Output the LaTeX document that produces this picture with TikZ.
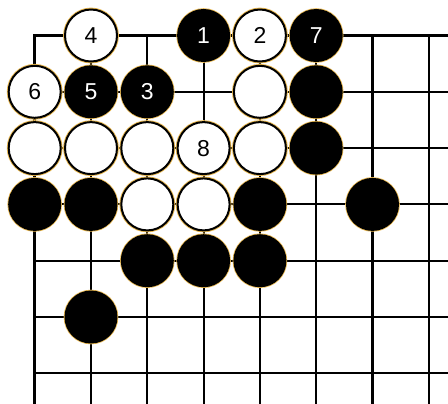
\documentclass[tikz,border=0pt]{standalone}
\usepackage{fontspec}
\setmainfont{Liberation Sans}
\definecolor{halo}{RGB}{232,184,80}
\tikzset{
  gridline/.style={line width=2.1pt, black},
  edgeline/.style={line width=3.4pt, black, line join=miter, line cap=butt},
  wstone/.style={circle, minimum size=52pt, inner sep=0pt, fill=white, draw=black, line width=2pt,
    preaction={draw=halo, line width=3.8pt}, text=black, font=\fontsize{23}{23}\selectfont},
  bstone/.style={circle, minimum size=53pt, inner sep=0pt, fill=black, draw=none,
    preaction={draw=halo, line width=1.6pt}, text=white, font=\fontsize{23}{23}\selectfont},
}
\begin{document}
\begin{tikzpicture}[x=56.3pt, y=-56.3pt]
\useasboundingbox[fill=white] (-0.6163,-0.6306) rectangle (7.3410,6.5275);
% interior grid
\foreach \c in {1,...,7} \draw[gridline] (\c,0) -- (\c,6.6);
\foreach \r in {1,...,6} \draw[gridline] (0,\r) -- (7.4,\r);
% board edges
\draw[edgeline] (7.4,0) -- (0,0) -- (0,6.6);
% row 0
\node[wstone] (w4) at (1,0) {4};
\node[bstone] (b1) at (3,0) {1};
\node[wstone] (w2) at (4,0) {2};
\node[bstone] (b7) at (5,0) {7};
% row 1
\node[wstone] (w6) at (0,1) {6};
\node[bstone] (b5) at (1,1) {5};
\node[bstone] (b3) at (2,1) {3};
\node[wstone] (w41) at (4,1) {};
\node[bstone] (b51) at (5,1) {};
% row 2
\node[wstone] (w02) at (0,2) {};
\node[wstone] (w12) at (1,2) {};
\node[wstone] (w22) at (2,2) {};
\node[wstone] (w8) at (3,2) {8};
\node[wstone] (w42) at (4,2) {};
\node[bstone] (b52) at (5,2) {};
% row 3
\node[bstone] (b03) at (0,3) {};
\node[bstone] (b13) at (1,3) {};
\node[wstone] (w23) at (2,3) {};
\node[wstone] (w33) at (3,3) {};
\node[bstone] (b43) at (4,3) {};
\node[bstone] (b63) at (6,3) {};
% row 4
\node[bstone] (b24) at (2,4) {};
\node[bstone] (b34) at (3,4) {};
\node[bstone] (b44) at (4,4) {};
% row 5
\node[bstone] (b15) at (1,5) {};
\end{tikzpicture}
\end{document}
